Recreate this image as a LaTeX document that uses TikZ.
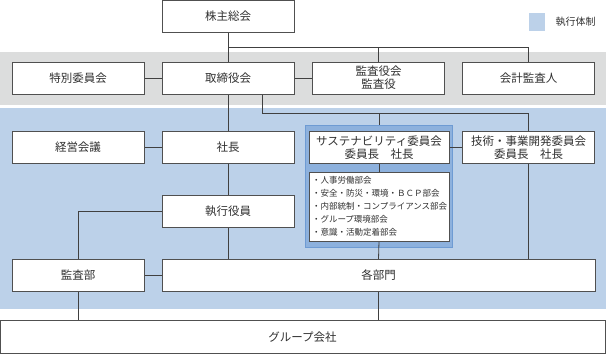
\documentclass[tikz,border=0pt]{standalone}
\usepackage{fontspec}
\setmainfont{Noto Sans CJK JP}
\usetikzlibrary{positioning, calc, fit, shadows}
\definecolor{cline}{HTML}{404040}
\definecolor{cborder}{HTML}{505050}
\definecolor{ctext}{HTML}{303030}
\definecolor{bandgray}{HTML}{DCDDDD}
\definecolor{bandblue}{HTML}{BCD1E9}
\definecolor{frameblue}{HTML}{8DB1DD}
\definecolor{framedraw}{HTML}{6E9BD3}
\pgfdeclarelayer{bands}
\pgfdeclarelayer{wires}
\pgfsetlayers{bands,wires,main}

\begin{document}
\begin{tikzpicture}[x=1pt, y=-1pt,
  orgbox/.style={draw=cborder, fill=white, minimum width=132pt, minimum height=32pt,
    inner sep=0pt, align=center, text=ctext, font=\fontsize{11.5}{14}\selectfont,
    drop shadow={shadow xshift=0.8pt, shadow yshift=-0.8pt, fill=black!60, opacity=0.6}},
  wire/.style={draw=cline, line width=0.8pt}]
  \useasboundingbox (0,0) rectangle (606,354);

  % boxes
  \node[orgbox] (soukai) at (228,16) {株主総会};
  \node[orgbox] (tokubetsu) at (78,78) {特別委員会};
  \node[orgbox] (torishimari) at (228,78) {取締役会};
  \node[orgbox, font=\fontsize{11.5}{13}\selectfont] (kansayaku) at (378.5,78) {監査役会\\監査役};
  \node[orgbox] (kaikei) at (528.5,78) {会計監査人};
  \node[orgbox] (keiei) at (78,147.5) {経営会議};
  \node[orgbox] (shacho) at (228,147.5) {社長};
  \node[orgbox, minimum width=140pt, font=\fontsize{11.5}{13}\selectfont] (sustain) at (379,147.5) {サステナビリティ委員会\\委員長\quad 社長};
  \node[orgbox, font=\fontsize{11.5}{13}\selectfont] (gijutsu) at (528.5,147.5) {技術・事業開発委員会\\委員長\quad 社長};
  \node[orgbox, minimum width=140pt, minimum height=69pt, align=left, text width=134pt,
    font=\fontsize{8.5}{13}\selectfont] (bukai) at (379,206.5)
    {・人事労働部会\\・安全・防災・環境・ＢＣＰ部会\\・内部統制・コンプライアンス部会\\・グループ環境部会\\・意識・活動定着部会};
  \node[orgbox] (shikko) at (228,211.5) {執行役員};
  \node[orgbox] (kansabu) at (78,275.5) {監査部};
  \node[orgbox, minimum width=433pt] (kakubu) at (378.5,275.5) {各部門};
  \node[orgbox, minimum width=605pt, minimum height=33pt] (group) at (302.5,337) {グループ会社};

  % legend
  \fill[bandblue] (529,13) rectangle (545,31);
  \node[text=ctext, font=\fontsize{10}{12}\selectfont, anchor=west] (legend) at (552,22) {執行体制};

  \begin{pgfonlayer}{bands}
    \fill[bandgray] (0,52) rectangle (606,105);
    \fill[bandblue] (0,108) rectangle (606,309);
    \node[fit=(sustain)(bukai), inner xsep=3.5pt, inner ysep=6pt, fill=frameblue,
      draw=framedraw, line width=1pt] (sustframe) {};
  \end{pgfonlayer}

  \begin{pgfonlayer}{wires}
    \coordinate (busTop) at ($(soukai.south)!0.5!(torishimari.north)$);
    \draw[wire] (soukai) -- (torishimari);
    \draw[wire] (busTop) -| (kaikei.north);
    \draw[wire] (kansayaku.north) -- (kansayaku.north |- busTop);
    \draw[wire] (tokubetsu) -- (torishimari);
    \draw[wire] (torishimari) -- (kansayaku);

    \coordinate (tapExec) at ([xshift=34pt]torishimari.south);
    \coordinate (busExec) at ([yshift=-19pt]tapExec);
    \draw[wire] (tapExec) -- (busExec) -| (gijutsu.north);
    \draw[wire] (sustframe.north) -- (sustframe.north |- busExec);
    \draw[wire] (torishimari) -- (shacho);
    \draw[wire] (keiei) -- (shacho);
    \draw[wire] (sustain) -- (gijutsu);
    \draw[wire] (sustain) -- (bukai);
    \draw[wire] (shacho) -- (shikko);
    \draw[wire] (shikko.south) -- (shikko.south |- kakubu.north);
    \draw[wire] (shikko.west) -| (kansabu.north);
    \draw[wire] (bukai.south) -- (kakubu.north);
    \draw[wire] (gijutsu.south) -- (gijutsu.south |- kakubu.north);
    \draw[wire] (kansabu) -- (kakubu);
    \draw[wire] (kansabu.south) -- (kansabu.south |- group.north);
    \draw[wire] (kakubu.south) -- (kakubu.south |- group.north);
  \end{pgfonlayer}
\end{tikzpicture}
\end{document}
